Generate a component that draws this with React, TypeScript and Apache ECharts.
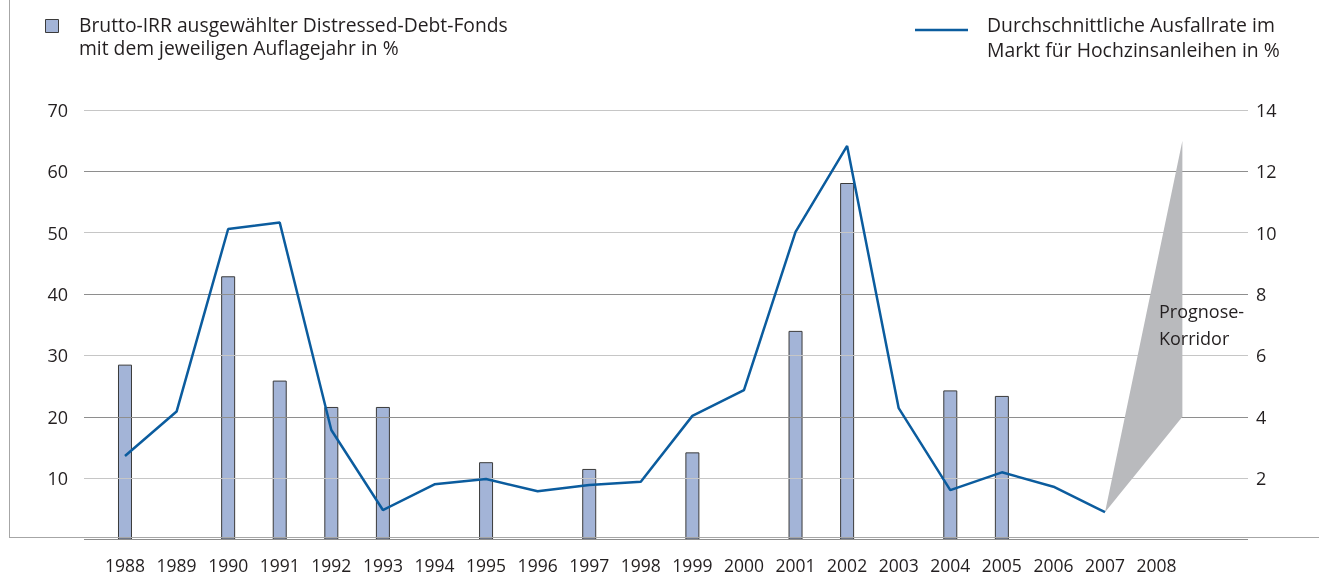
import React, { useEffect, useRef } from 'react';
import * as echarts from 'echarts';

const years = ['1988', '1989', '1990', '1991', '1992', '1993', '1994', '1995', '1996', '1997', '1998', '1999', '2000', '2001', '2002', '2003', '2004', '2005', '2006', '2007', '2008'];
const irrValues = [28.5, null, 42.9, 25.9, 21.6, 21.6, null, 12.6, null, 11.5, null, 14.2, null, 34.0, 58.1, null, 24.3, 23.4, null, null, null];
const defaultRates = [2.72, 4.17, 10.12, 10.33, 3.57, 0.96, 1.8, 1.97, 1.57, 1.78, 1.88, 4.03, 4.87, 10.03, 12.83, 4.28, 1.61, 2.19, 1.72, 0.89, null];
const corridorYears = ['2007', '2008'];
const corridorUpper = [0.89, 13.0];
const corridorLower = [0.89, 4.0];
const leftTicks = [0, 70, 10];
const rightTicks = [0, 14, 2];

const barName = 'Brutto-IRR ausgewählter Distressed-Debt-Fonds\nmit dem jeweiligen Auflagejahr in %';
const lineName = 'Durchschnittliche Ausfallrate im\nMarkt für Hochzinsanleihen in %';

const FONT = '"Open Sans", sans-serif';
const TEXT = '#231f20';

export default function App() {
  const ref = useRef<HTMLDivElement>(null);
  useEffect(() => {
    if (!ref.current) return;
    const chart = echarts.init(ref.current, undefined, { renderer: 'svg' });
    const top = 110;
    const bottom = 574 - 539.5;
    const option: any = {
      animation: false,
      textStyle: { fontFamily: FONT },
      grid: [
        { left: 84, right: 1319 - 1248, top, bottom },
        { left: 99.2, right: 1319 - 1182.4, top, bottom },
      ],
      xAxis: [
        { type: 'category', gridIndex: 0, data: years, show: false },
        {
          type: 'category', gridIndex: 1, data: years,
          axisLine: { show: false }, axisTick: { show: false },
          axisLabel: { color: TEXT, fontSize: 17.5, lineHeight: 15, margin: 18, fontFamily: FONT, interval: 0 },
        },
      ],
      yAxis: [
        {
          type: 'value', gridIndex: 0, position: 'left', min: leftTicks[0], max: leftTicks[1], interval: leftTicks[2], z: 3,
          axisLine: { show: false }, axisTick: { show: false },
          axisLabel: { color: TEXT, fontSize: 18, margin: 16, fontFamily: FONT, verticalAlign: 'middle', padding: [0, 0, 10, 0],
            formatter: (v: number) => (v === 0 ? '' : String(v)) },
          splitLine: { show: true, lineStyle: { color: ['#8e8e8e', '#c6c6c6'], width: 1.2 } },
        },
        {
          type: 'value', gridIndex: 0, position: 'right', min: rightTicks[0], max: rightTicks[1], interval: rightTicks[2], z: 3,
          axisLine: { show: false }, axisTick: { show: false },
          axisLabel: { color: TEXT, fontSize: 18, margin: 8, fontFamily: FONT, verticalAlign: 'middle', padding: [0, 0, 10, 0],
            formatter: (v: number) => (v === 0 ? '' : String(v)) },
          splitLine: { show: false },
        },
        { type: 'value', gridIndex: 1, min: leftTicks[0], max: leftTicks[1], interval: leftTicks[2], show: false, splitLine: { show: false } },
        { type: 'value', gridIndex: 1, min: rightTicks[0], max: rightTicks[1], interval: rightTicks[2], show: false, splitLine: { show: false } },
      ],
      series: [
        {
          name: barName, type: 'bar', xAxisIndex: 1, yAxisIndex: 2, data: irrValues, barWidth: 14, z: 2,
          itemStyle: { color: '#a3b4d7', borderColor: '#3b3b3b', borderWidth: 1 },
        },
        {
          type: 'custom', xAxisIndex: 1, yAxisIndex: 3, z: 4,
          data: [[corridorYears[0], corridorUpper[0], corridorUpper[1], corridorLower[1]]],
          renderItem: (params: any, api: any) => {
            const i0 = api.value(0);
            const start = api.coord([i0, api.value(1)]);
            const band = api.size([1, 0])[0];
            const hi = api.coord([i0 + 1, api.value(2)]);
            const lo = api.coord([i0 + 1, api.value(3)]);
            return {
              type: 'polygon',
              shape: { points: [start, [hi[0] + band / 2, hi[1]], [lo[0] + band / 2, lo[1]]] },
              style: { fill: '#b9babd' },
            };
          },
        },
        {
          name: lineName, type: 'line', xAxisIndex: 1, yAxisIndex: 3, data: defaultRates, z: 5,
          symbol: 'none', lineStyle: { color: '#0b5c9e', width: 2.5 }, itemStyle: { color: '#0b5c9e' },
        },
      ],
      graphic: [
        { type: 'line', shape: { x1: 9.5, y1: 0, x2: 9.5, y2: 537.5 }, style: { stroke: '#a6a6a6', lineWidth: 1 }, z: 10 },
        { type: 'line', shape: { x1: 9, y1: 537.5, x2: 1319, y2: 537.5 }, style: { stroke: '#a6a6a6', lineWidth: 1.2 }, z: 10 },
        { type: 'rect', shape: { x: 45.5, y: 19.5, width: 13, height: 13 }, style: { fill: '#a3b4d7', stroke: '#3b3b3b', lineWidth: 1 }, z: 10 },
        { type: 'text', x: 79, y: 12.5, style: { text: barName, font: `19.3px ${FONT}`, fill: TEXT, lineHeight: 23.5 }, z: 10 },
        { type: 'line', shape: { x1: 915, y1: 30, x2: 968, y2: 30 }, style: { stroke: '#0b5c9e', lineWidth: 2.5 }, z: 10 },
        { type: 'text', x: 987, y: 12, style: { text: lineName, font: `19.4px ${FONT}`, fill: TEXT, lineHeight: 25 }, z: 10 },
        { type: 'text', x: 1159, y: 298, style: { text: 'Prognose-\nKorridor', font: `18px ${FONT}`, fill: TEXT, lineHeight: 26.5 }, z: 10 },
      ],
    };
    chart.setOption(option);
    return () => chart.dispose();
  }, []);
  return <div ref={ref} style={{ position: 'fixed', left: 0, top: 0, width: 1319, height: 574 }} />;
}
